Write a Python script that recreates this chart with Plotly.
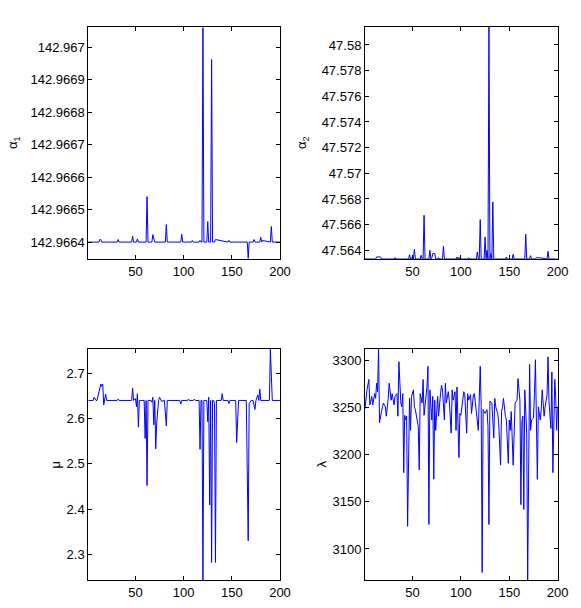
import plotly.graph_objects as go

# iteration index / value pairs (flat stretches kept as end points)
a1_x = [1, 12, 13, 14, 15, 31, 32, 33, 46, 47, 48, 51, 52, 53, 61, 62, 63, 67, 68, 69, 70,
        81, 82, 83, 97, 98, 99, 108, 109, 110, 116, 117, 118, 119, 120, 121, 124, 125, 126,
        128, 129, 130, 132, 133, 146, 147, 148, 166, 167, 168, 172, 173, 174, 179, 180, 181,
        182, 190, 191, 192, 200]
a1_y = [142.96640, 142.96640, 142.966408, 142.966408, 142.96640, 142.96640, 142.966408,
        142.96640, 142.96640, 142.966418, 142.96640, 142.96640, 142.96641, 142.96640,
        142.96640, 142.96654, 142.96640, 142.96640, 142.966423, 142.966405, 142.96640,
        142.96640, 142.966454, 142.96640, 142.96640, 142.966424, 142.96640, 142.96640,
        142.966405, 142.96640, 142.96640, 142.966405, 142.96640, 142.96640, 142.96706,
        142.96640, 142.96640, 142.966463, 142.96640, 142.96640, 142.966962, 142.96640,
        142.96640, 142.966408, 142.96640, 142.966405, 142.96640, 142.96640, 142.96635,
        142.96640, 142.96640, 142.966408, 142.96640, 142.96640, 142.966415, 142.96640,
        142.966405, 142.96640, 142.966448, 142.96640, 142.96640]

a2_x = [1, 12, 13, 17, 18, 31, 32, 33, 46, 47, 48, 49, 50, 51, 52, 53, 58, 59, 60, 61, 62,
        63, 67, 68, 69, 70, 71, 73, 74, 76, 77, 78, 81, 82, 83, 95, 96, 97, 98, 99, 107, 108,
        109, 116, 117, 118, 119, 120, 121, 124, 125, 126, 127, 128, 129, 130, 131, 132, 133,
        134, 139, 140, 141, 146, 147, 148, 153, 154, 155, 166, 167, 168, 171, 172, 173, 177,
        178, 183, 189, 190, 191, 200]
a2_y = [47.56332, 47.56332, 47.56348, 47.56348, 47.56332, 47.56332, 47.56343, 47.56332,
        47.56332, 47.56366, 47.56332, 47.56343, 47.56332, 47.56332, 47.56408, 47.56332,
        47.56332, 47.56361, 47.56332, 47.56332, 47.56673, 47.56332, 47.56332, 47.56400,
        47.56332, 47.56340, 47.56374, 47.56374, 47.56332, 47.56332, 47.56343, 47.56332,
        47.56332, 47.56431, 47.56332, 47.56332, 47.56348, 47.56332, 47.56343, 47.56332,
        47.56332, 47.56343, 47.56332, 47.56332, 47.56387, 47.56332, 47.56332, 47.56639,
        47.56332, 47.56332, 47.56504, 47.56332, 47.56400, 47.56332, 47.58140, 47.56332,
        47.56374, 47.56332, 47.56777, 47.56332, 47.56332, 47.56335, 47.56332, 47.56332,
        47.56348, 47.56332, 47.56332, 47.56369, 47.56332, 47.56332, 47.56525, 47.56332,
        47.56332, 47.56358, 47.56332, 47.56332, 47.56343, 47.56340, 47.56332, 47.56392,
        47.56332, 47.56332]

mu_x = [1, 6, 7, 9, 10, 12, 14, 15, 16, 17, 19, 20, 31, 32, 33, 46, 47, 48, 50, 51, 52, 53,
        54, 59, 60, 61, 62, 63, 66, 67, 68, 69, 70, 71, 72, 74, 75, 77, 80, 82, 83, 96, 97,
        98, 104, 105, 106, 110, 111, 112, 116, 117, 118, 119, 120, 121, 124, 125, 126, 127,
        128, 129, 130, 131, 132, 133, 134, 139, 140, 141, 146, 147, 148, 154, 155, 157, 165,
        167, 168, 170, 172, 174, 175, 177, 178, 179, 180, 189, 190, 192, 200]
mu_y = [2.640, 2.640, 2.647, 2.640, 2.640, 2.659, 2.676, 2.671, 2.676, 2.630, 2.654, 2.640,
        2.640, 2.643, 2.640, 2.640, 2.667, 2.640, 2.644, 2.626, 2.655, 2.581, 2.640, 2.640,
        2.556, 2.640, 2.452, 2.640, 2.640, 2.636, 2.647, 2.586, 2.640, 2.533, 2.590, 2.640,
        2.647, 2.638, 2.640, 2.584, 2.640, 2.640, 2.632, 2.640, 2.640, 2.643, 2.640, 2.640,
        2.643, 2.640, 2.640, 2.532, 2.640, 2.640, 2.2432, 2.640, 2.640, 2.593, 2.647, 2.409,
        2.640, 2.282, 2.640, 2.640, 2.633, 2.282, 2.640, 2.640, 2.655, 2.640, 2.640, 2.633,
        2.640, 2.640, 2.547, 2.640, 2.640, 2.330, 2.633, 2.640, 2.640, 2.620, 2.640, 2.652,
        2.640, 2.665, 2.640, 2.640, 2.7537, 2.640, 2.640]

lam_x = [1, 3, 5, 6, 8, 9, 11, 12, 13, 14, 15, 16, 18, 20, 22, 23, 25, 26, 28, 29, 31, 32,
         34, 35, 36, 38, 39, 40, 41, 42, 43, 44, 45, 47, 48, 49, 51, 52, 53, 54, 56, 57, 58,
         60, 61, 62, 64, 65, 66, 67, 68, 70, 71, 72, 73, 74, 76, 77, 79, 80, 81, 83, 84, 85,
         87, 88, 90, 91, 92, 94, 95, 96, 98, 99, 100, 102, 103, 104, 106, 107, 108, 110, 111,
         113, 114, 115, 117, 118, 120, 121, 122, 123, 124, 125, 127, 128, 129, 130, 132, 133,
         134, 135, 136, 138, 139, 141, 142, 143, 144, 146, 147, 149, 150, 151, 152, 154, 155,
         156, 158, 159, 161, 162, 163, 164, 165, 166, 168, 169, 171, 172, 173, 175, 176, 177,
         179, 180, 182, 183, 184, 186, 187, 189, 190, 191, 193, 194, 195, 197, 198, 199, 200]
lam_y = [3249, 3269, 3280, 3253, 3262, 3253, 3265, 3260, 3276, 3267, 3313, 3234, 3246, 3255,
         3251, 3241, 3260, 3276, 3258, 3265, 3253, 3262, 3265, 3241, 3299, 3255, 3251, 3265,
         3181, 3242, 3237, 3241, 3124, 3260, 3226, 3262, 3269, 3251, 3248, 3241, 3230, 3184,
         3265, 3255, 3280, 3242, 3258, 3272, 3294, 3126, 3269, 3237, 3262, 3174, 3258, 3226,
         3262, 3241, 3265, 3274, 3269, 3237, 3276, 3255, 3267, 3258, 3223, 3269, 3258, 3267,
         3226, 3272, 3197, 3244, 3242, 3260, 3267, 3264, 3223, 3265, 3258, 3264, 3244, 3264,
         3265, 3255, 3234, 3226, 3294, 3251, 3075, 3248, 3246, 3244, 3248, 3230, 3126, 3257,
         3255, 3234, 3218, 3260, 3251, 3244, 3235, 3189, 3246, 3251, 3260, 3241, 3237, 3191,
         3237, 3226, 3246, 3189, 3235, 3255, 3258, 3281, 3258, 3147, 3235, 3241, 3142, 3269,
         3223, 3067, 3296, 3226, 3237, 3239, 3265, 3301, 3174, 3251, 3237, 3248, 3269, 3241,
         3251, 3264, 3304, 3257, 3228, 3288, 3181, 3280, 3260, 3226, 3251]

x_ticks = [50, 100, 150, 200]
a1_ticks = [142.9664, 142.9665, 142.9666, 142.9667, 142.9668, 142.9669, 142.967]
a1_labels = ["142.9664", "142.9665", "142.9666", "142.9667", "142.9668", "142.9669", "142.967"]
a2_ticks = [47.564, 47.566, 47.568, 47.57, 47.572, 47.574, 47.576, 47.578, 47.58]
a2_labels = ["47.564", "47.566", "47.568", "47.57", "47.572", "47.574", "47.576", "47.578", "47.58"]
mu_ticks = [2.3, 2.4, 2.5, 2.6, 2.7]
lam_ticks = [3100, 3150, 3200, 3250, 3300]

W, H = 581, 608
panels = [
    # x, y, label, y range, yticks, yticktext, xdomain(px), ydomain(px), label x(px)
    (a1_x, a1_y, "α<sub>1</sub>", [142.966348, 142.967062], a1_ticks, a1_labels, (88.3, 280), (27, 259), 13),
    (a2_x, a2_y, "α<sub>2</sub>", [47.56332, 47.5814], a2_ticks, a2_labels, (365, 557.7), (27, 259), 302),
    (mu_x, mu_y, "μ", [2.2432, 2.7537], mu_ticks, None, (88.3, 280), (349, 580), 55),
    (lam_x, lam_y, "λ", [3067, 3312.4], lam_ticks, None, (365, 557.7), (349, 580), 321),
]

fig = go.Figure()
layout = dict(width=W, height=H, margin=dict(l=0, r=0, t=0, b=0),
              paper_bgcolor="white", plot_bgcolor="white", showlegend=False,
              font=dict(family="Liberation Sans, Arial, sans-serif", size=13, color="black"),
              annotations=[])

for i, (xs, ys, lab, yr, yt, ytt, xd, yd, tx) in enumerate(panels, start=1):
    sfx = "" if i == 1 else str(i)
    fig.add_trace(go.Scatter(x=xs, y=ys, mode="lines",
                             line=dict(color="rgb(0,0,255)", width=1),
                             xaxis="x" + sfx, yaxis="y" + sfx, hoverinfo="skip"))
    common = dict(showgrid=False, zeroline=False, showline=True, linecolor="black",
                  linewidth=1, mirror="ticks", ticks="inside", ticklen=4,
                  tickcolor="black", automargin=False,
                  tickfont=dict(size=13, color="black"))
    layout["xaxis" + sfx] = dict(common, domain=[xd[0] / W, xd[1] / W], range=[1, 200],
                                 tickvals=x_ticks, anchor="y" + sfx)
    ya = dict(common, domain=[1 - yd[1] / H, 1 - yd[0] / H], range=yr,
              tickvals=yt, anchor="x" + sfx)
    if ytt:
        ya["ticktext"] = ytt
    layout["yaxis" + sfx] = ya
    layout["annotations"].append(dict(text=lab, x=tx / W, y=1 - (yd[0] + yd[1]) / 2 / H,
                                      xref="paper", yref="paper", showarrow=False,
                                      xanchor="center", yanchor="middle",
                                      textangle=-90, font=dict(size=13)))

fig.update_layout(layout)
# page body has a default 8px margin; drop it so the figure sits at the window origin
fig.write_html("out.html", config={"displayModeBar": False},
               post_script="document.body.style.margin='0';")
